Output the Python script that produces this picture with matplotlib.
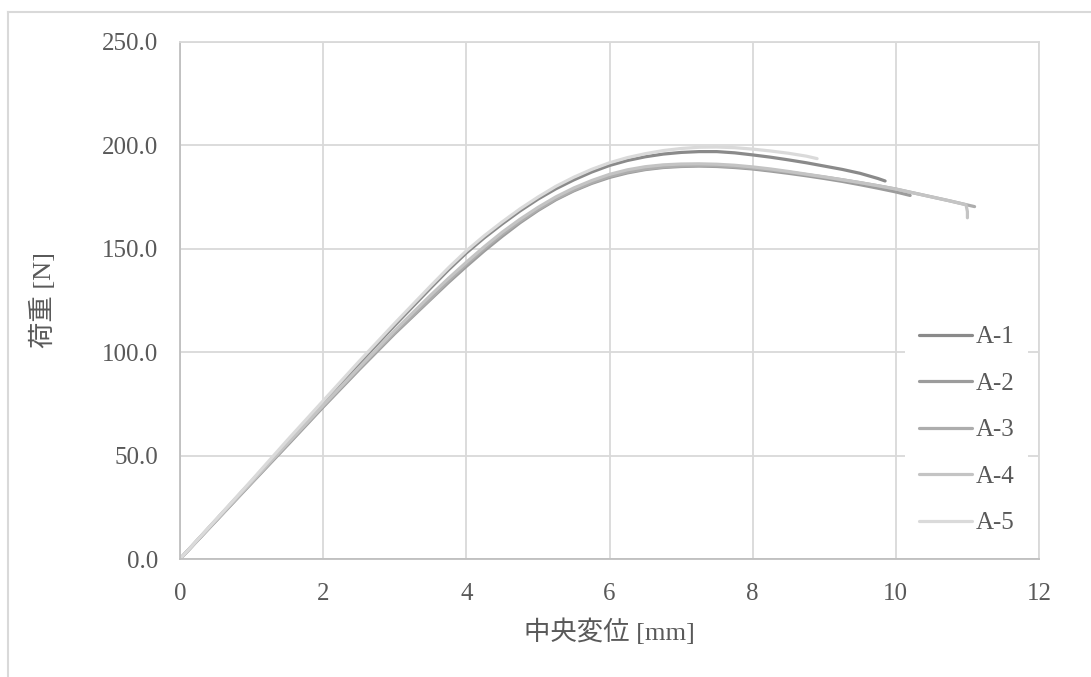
import numpy as np
import matplotlib
matplotlib.use('Agg')
import matplotlib.pyplot as plt
from matplotlib.lines import Line2D

plt.rcParams['font.family'] = ['Liberation Serif', 'Noto Sans CJK JP']
plt.rcParams['font.size'] = 18

# 荷重-変位データ
x_a1 = [0, 0.5, 1, 1.5, 2, 2.5, 3, 3.5, 3.75, 4, 4.25, 4.5, 4.75, 5, 5.25, 5.5, 5.75, 6, 6.25, 6.5, 6.75,
        7, 7.25, 7.5, 7.75, 8, 8.25, 8.5, 8.75, 9, 9.25, 9.5, 9.75, 9.85]
y_a1 = [0, 18.8, 37.6, 56.5, 75.5, 94.5, 113, 131, 139.8, 148, 155.3, 162, 168.3, 174, 179, 183.3, 187.1, 190.3, 192.7, 194.5, 195.8,
        196.6, 197, 197, 196.4, 195.4, 194.3, 193, 191.6, 190, 188.4, 186.5, 184, 182.8]

x_a2 = [0, 0.5, 1, 1.5, 2, 2.5, 3, 3.5, 3.75, 4, 4.25, 4.5, 4.75, 5, 5.25, 5.5, 5.75, 6, 6.25, 6.5, 6.75,
        7, 7.25, 7.5, 7.75, 8, 8.25, 8.5, 8.75, 9, 9.25, 9.5, 9.75, 10, 10.2]
y_a2 = [0, 18.3, 36.7, 55, 73.5, 91.5, 109, 125.5, 133.7, 141.5, 149, 156, 162.6, 168.5, 173.7, 178, 181.6, 184.5, 186.7, 188.3, 189.3,
        189.8, 190, 189.8, 189.3, 188.6, 187.6, 186.5, 185.3, 184, 182.6, 181, 179.3, 177.5, 175.8]

x_a3 = [0, 0.5, 1, 1.5, 2, 2.5, 3, 3.5, 3.75, 4, 4.25, 4.5, 4.75, 5, 5.25, 5.5, 5.75, 6, 6.25, 6.5, 6.75,
        7, 7.25, 7.5, 7.75, 8, 8.25, 8.5, 8.75, 9, 9.25, 9.5, 9.75, 10, 10.25, 10.5, 10.75, 11, 11.1]
y_a3 = [0, 18.5, 37, 55.5, 74, 92, 109.5, 126, 134.5, 142.5, 150, 157, 163.3, 169, 174.1, 178.4, 182, 185, 187.1, 188.6, 189.6,
        190.1, 190.3, 190.2, 189.7, 189, 188.1, 187.1, 185.9, 184.7, 183.4, 182, 180.5, 178.9, 177, 175.1, 173.2, 171.2, 170.4]

x_a4 = [0, 0.5, 1, 1.5, 2, 2.5, 3, 3.5, 3.75, 4, 4.25, 4.5, 4.75, 5, 5.25, 5.5, 5.75, 6, 6.25, 6.5, 6.75,
        7, 7.25, 7.5, 7.75, 8, 8.25, 8.5, 8.75, 9, 9.25, 9.5, 9.75, 10, 10.25, 10.5, 10.75, 10.98, 11.0, 11.0]
y_a4 = [0, 18.6, 37.2, 55.8, 74.3, 92.5, 110.5, 127.5, 135.7, 143.5, 151, 158, 164.3, 170, 175.1, 179.4, 183, 186, 188.2, 189.7, 190.6,
        191, 191.1, 190.9, 190.4, 189.6, 188.6, 187.4, 186.1, 184.8, 183.4, 182, 180.5, 178.9, 177, 175.1, 173.2, 171.3, 168, 165]

x_a5 = [0, 0.5, 1, 1.5, 2, 2.5, 3, 3.5, 3.75, 4, 4.25, 4.5, 4.75, 5, 5.25, 5.5, 5.75, 6, 6.25, 6.5, 6.75,
        7, 7.25, 7.5, 7.75, 8, 8.25, 8.5, 8.75, 8.9]
y_a5 = [0, 19, 38, 57.5, 76.5, 95.5, 114, 132, 140.8, 149, 156.3, 163, 169.3, 175, 180.2, 184.6, 188.4, 191.6, 194.1, 196, 197.5,
        198.5, 199.1, 199.2, 198.9, 198.2, 197.3, 196.2, 194.8, 193.6]

labels = ['A-1', 'A-2', 'A-3', 'A-4', 'A-5']
colors = ['#8a8a8a', '#9c9c9c', '#adadad', '#c4c4c4', '#dadada']

fig = plt.figure(figsize=(10.91, 6.77), dpi=100)
ax = fig.add_axes([180/1091, 1-559/677, 859/1091, 517/677])

series = [(x_a1, y_a1), (x_a2, y_a2), (x_a3, y_a3), (x_a4, y_a4), (x_a5, y_a5)]
for (xs, ys), lab, c in zip(series, labels, colors):
    ax.plot(xs, ys, color=c, lw=2.3, label=lab, solid_capstyle='round', solid_joinstyle='round')

ax.set_xlim(0, 12)
ax.set_ylim(0, 250)
ax.set_xticks(np.arange(0, 13, 2))
ax.set_yticks(np.arange(0, 251, 50))
ax.set_yticklabels(['%.1f' % v for v in np.arange(0, 251, 50)])
ax.grid(True, color='#d9d9d9', lw=1.3)
ax.set_axisbelow(True)
for s in ['top', 'right']:
    ax.spines[s].set_color('#d9d9d9')
    ax.spines[s].set_linewidth(1.3)
for s in ['left', 'bottom']:
    ax.spines[s].set_color('#bfbfbf')
    ax.spines[s].set_linewidth(1.3)
ax.tick_params(axis='both', length=0, colors='#595959', labelsize=18)
ax.tick_params(axis='y', pad=16)
ax.tick_params(axis='x', pad=17)

ax.set_xlabel('中央変位 [mm]', color='#595959', fontsize=19, labelpad=10)
ax.set_ylabel('荷重 [N]', color='#595959', fontsize=19, labelpad=33)

leg = ax.legend(loc='center left', bbox_to_anchor=(0.844, 0.2495), frameon=True,
                handlelength=2.15, handletextpad=0.12, labelspacing=0.96,
                borderpad=0.55, borderaxespad=0, fontsize=18)
leg.get_frame().set_facecolor('white')
leg.get_frame().set_edgecolor('none')
leg.get_frame().set_alpha(1)
for t in leg.get_texts():
    t.set_color('#595959')

# 外枠
fig.add_artist(Line2D([8/1091, 1], [1-12/677, 1-12/677], color='#d9d9d9', lw=1.5))
fig.add_artist(Line2D([8/1091, 8/1091], [0, 1-12/677], color='#d9d9d9', lw=1.5))

fig.savefig('out.png', dpi=100)
